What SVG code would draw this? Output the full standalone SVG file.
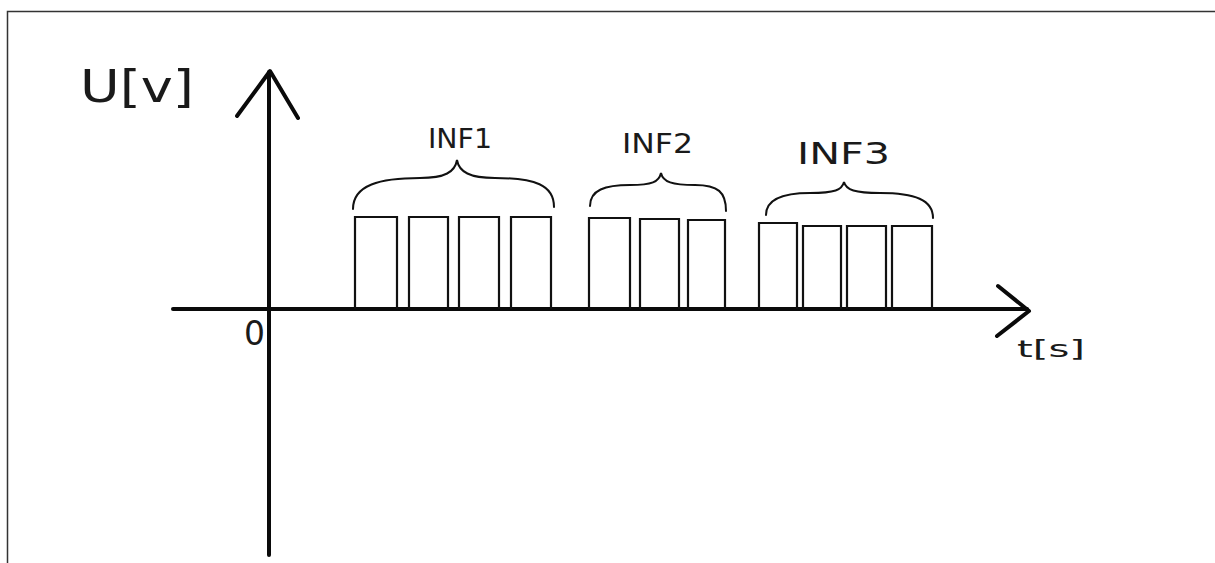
<svg xmlns="http://www.w3.org/2000/svg" width="1215" height="563" viewBox="0 0 1215 563">
  <style>
    .frame { fill: none; stroke: #333; stroke-width: 1.5; }
    .axis { fill: none; stroke: #0a0a0a; stroke-width: 4; stroke-linecap: round; stroke-linejoin: round; }
    .pulse { fill: none; stroke: #111; stroke-width: 2.2; }
    .brace { fill: none; stroke: #111; stroke-width: 2; stroke-linecap: round; }
    .hand { font-family: "DejaVu Sans", "Liberation Sans", sans-serif; fill: #1a1a1a; }
  </style>
  <rect width="1215" height="563" fill="#fff"/>

  <!-- page frame: top and left edges -->
  <path class="frame" d="M7.5,563 V11.5 H1215"/>

  <!-- coordinate axes -->
  <g id="axes">
    <path class="axis" d="M173,309 H1027"/>
    <path class="axis" d="M998,286 L1029,311 L997,336"/>
    <path class="axis" d="M269,555 V72"/>
    <path class="axis" d="M237,116 L270,71 L298,118"/>
    <text class="hand" x="80" y="102" font-size="44" textLength="114" lengthAdjust="spacingAndGlyphs">U[v]</text>
    <text class="hand" x="244" y="345" font-size="33">0</text>
    <text class="hand" x="1017" y="357" font-size="23" fill="#444" textLength="68" lengthAdjust="spacingAndGlyphs">t[s]</text>
  </g>

  <!-- packet INF1 -->
  <g id="inf1">
    <path class="pulse" d="M355,309 V217 H397 V309 M409,309 V217 H448 V309 M459,309 V217 H499 V309 M511,309 V217 H551 V309"/>
    <path class="brace" d="M353,209 C353,185 380,178 420,178 C445,178 455,172 457,160 C459,172 470,178 495,178 C535,178 554,185 554,207"/>
    <text class="hand" x="428" y="148" font-size="27" textLength="64" lengthAdjust="spacingAndGlyphs">INF1</text>
  </g>

  <!-- packet INF2 -->
  <g id="inf2">
    <path class="pulse" d="M589,309 V218 H630 V309 M640,309 V219 H679 V309 M688,309 V220 H725 V309"/>
    <path class="brace" d="M590,206 C590,190 605,185 630,185 C652,185 659,182 661,173 C663,182 672,185 695,185 C718,185 726,192 726,211"/>
    <text class="hand" x="622" y="153" font-size="27" textLength="71" lengthAdjust="spacingAndGlyphs">INF2</text>
  </g>

  <!-- packet INF3 -->
  <g id="inf3">
    <path class="pulse" d="M759,309 V223 H797 V309 M803,309 V226 H841 V309 M847,309 V226 H886 V309 M892,309 V226 H932 V309"/>
    <path class="brace" d="M766,215 C766,198 785,193 810,193 C835,193 842,190 844,182 C846,190 855,193 880,193 C915,193 933,200 933,218"/>
    <text class="hand" x="797" y="164" font-size="31" textLength="93" lengthAdjust="spacingAndGlyphs">INF3</text>
  </g>
</svg>
